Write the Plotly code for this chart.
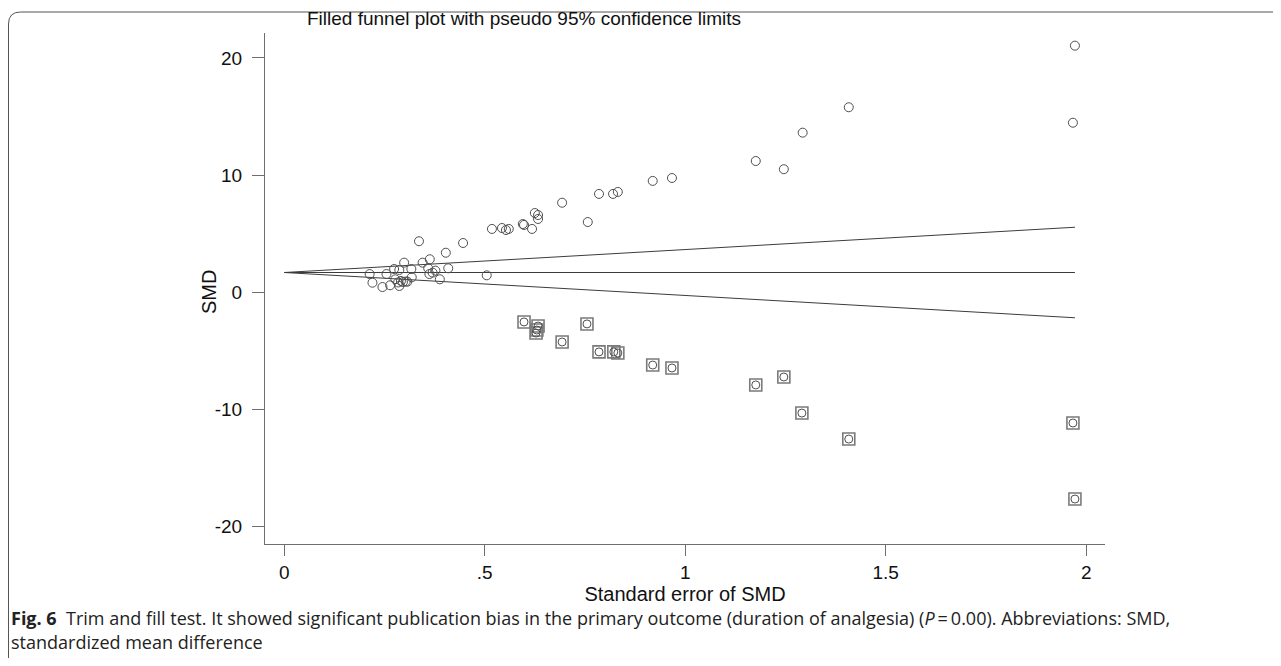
import plotly.graph_objects as go

# Observed studies (open circles)
obs_se = [1.972, 1.967, 1.408, 1.293, 1.246, 1.176, 0.967, 0.919, 0.832, 0.820,
          0.785, 0.757, 0.693, 0.633, 0.625, 0.633, 0.595, 0.598, 0.618, 0.543,
          0.553, 0.560, 0.518, 0.336, 0.446, 0.403, 0.363, 0.345, 0.299, 0.274,
          0.287, 0.317, 0.255, 0.213, 0.359, 0.409, 0.377, 0.370, 0.362, 0.505,
          0.318, 0.277, 0.291, 0.296, 0.284, 0.303, 0.388, 0.220, 0.245, 0.264,
          0.287, 0.307]
obs_smd = [21.05, 14.47, 15.79, 13.62, 10.50, 11.20, 9.75, 9.50, 8.56, 8.39,
           8.39, 5.99, 7.64, 6.59, 6.76, 6.25, 5.82, 5.74, 5.40, 5.48,
           5.31, 5.40, 5.40, 4.35, 4.20, 3.37, 2.81, 2.52, 2.52, 1.98,
           1.90, 1.98, 1.55, 1.55, 2.04, 2.04, 1.84, 1.67, 1.55, 1.44,
           1.27, 1.10, 0.96, 0.87, 0.83, 0.91, 1.10, 0.81, 0.44, 0.59,
           0.53, 0.90]

# Imputed (filled) studies (squares with circles)
fill_se = [0.598, 0.633, 0.630, 0.628, 0.755, 0.693, 0.785, 0.822, 0.832, 0.919,
           0.967, 1.176, 1.246, 1.291, 1.408, 1.967, 1.972]
fill_smd = [-2.54, -2.89, -3.23, -3.49, -2.71, -4.25, -5.10, -5.10, -5.19, -6.22,
            -6.47, -7.92, -7.24, -10.32, -12.54, -11.17, -17.66]

# Pooled estimate and maximum standard error for the pseudo 95% limits
theta = 1.68
se_max = 1.972

x_ticks = [0, 0.5, 1, 1.5, 2]
x_ticklabels = ["0", ".5", "1", "1.5", "2"]
y_ticks = [-20, -10, 0, 10, 20]
y_ticklabels = ["-20", "-10", "0", "10", "20"]

FONT = "Liberation Sans, Arial, sans-serif"
CAP_FONT = "Open Sans, Noto Sans, sans-serif"
LINE = "#3c3c3c"
AXIS = "#6e6e6e"

fig = go.Figure()

# Funnel lines
for lim in (theta + 1.96 * se_max, theta - 1.96 * se_max, theta):
    fig.add_trace(go.Scatter(x=[0, se_max], y=[theta, lim], mode="lines",
                             line=dict(color=LINE, width=1), hoverinfo="skip",
                             showlegend=False))

# Filled squares
fig.add_trace(go.Scatter(x=fill_se, y=fill_smd, mode="markers",
                         marker=dict(symbol="square-open", size=12, color="#7a7a7a",
                                     line=dict(width=1.6, color="#7a7a7a")),
                         showlegend=False))
fig.add_trace(go.Scatter(x=fill_se, y=fill_smd, mode="markers",
                         marker=dict(symbol="circle-open", size=8, color="#505050",
                                     line=dict(width=1, color="#505050")),
                         showlegend=False))
# Observed circles
fig.add_trace(go.Scatter(x=obs_se, y=obs_smd, mode="markers",
                         marker=dict(symbol="circle-open", size=9, color="#505050",
                                     line=dict(width=1, color="#505050")),
                         showlegend=False))

# Layout geometry: page pixels, the page body has an 8px margin
OFF = 8
W, H = 1281 - 2 * OFF, 666 - 2 * OFF
L, R, T, B = 265 - OFF, 1105 - OFF, 33 - OFF, 544 - OFF

def px(x_page):
    return (x_page - OFF - L) / (R - L)

def py(y_page):
    return (B - (y_page - OFF)) / (B - T)

fig.update_layout(
    width=W, height=H,
    margin=dict(l=L, r=W - R, t=T, b=H - B),
    paper_bgcolor="white", plot_bgcolor="white",
    font=dict(family=FONT, color="#111111", size=19),
    xaxis=dict(range=[-0.048, 2.047], tickmode="array", tickvals=x_ticks,
               ticktext=x_ticklabels, ticks="outside", ticklen=11, tickwidth=1,
               tickcolor=AXIS, showline=True, linecolor=AXIS, linewidth=1,
               showgrid=False, zeroline=False, tickfont=dict(size=19),
               title=dict(text="Standard error of SMD", font=dict(size=20), standoff=5)),
    yaxis=dict(range=[-21.5, 22.13], tickmode="array", tickvals=y_ticks,
               ticktext=y_ticklabels, ticks="outside", ticklen=12, tickwidth=1,
               tickcolor=AXIS, showline=True, linecolor=AXIS, linewidth=1,
               showgrid=False, zeroline=False, tickfont=dict(size=19),
               ticklabelstandoff=6),
)

# Y-axis title (placed close to the tick labels as in the original)
fig.add_annotation(text="SMD", textangle=-90,
                   xref="paper", yref="paper", x=px(209), y=py(292),
                   xanchor="center", yanchor="middle", showarrow=False,
                   font=dict(family=FONT, size=20, color="#111"))

# Title inside the plot
fig.add_annotation(text="Filled funnel plot with pseudo 95% confidence limits",
                   xref="paper", yref="paper", x=px(305), y=py(19),
                   xanchor="left", yanchor="middle", showarrow=False,
                   font=dict(family=FONT, size=19, color="#111"))

# Caption
fig.add_annotation(text="<b>Fig. 6</b>  Trim and fill test. It showed significant publication bias in the primary outcome (duration of analgesia) (<i>P</i>\u2009=\u20090.00). Abbreviations: SMD,",
                   xref="paper", yref="paper", x=px(9), y=py(618),
                   xanchor="left", yanchor="middle", showarrow=False,
                   font=dict(family=CAP_FONT, size=18, color="#222"))
fig.add_annotation(text="standardized mean difference",
                   xref="paper", yref="paper", x=px(9), y=py(642),
                   xanchor="left", yanchor="middle", showarrow=False,
                   font=dict(family=CAP_FONT, size=18, color="#222"))

# Frame with rounded top-left corner
x0, y0, x1, yb = px(8.5), py(12), px(1281), py(666)
rad_x = 12 / (R - L)
rad_y = 12 / (B - T)
fig.add_shape(type="path", xref="paper", yref="paper",
              path=f"M {x0} {yb} L {x0} {y0 - rad_y} Q {x0} {y0} {x0 + rad_x} {y0} L {x1} {y0}",
              line=dict(color="#555", width=1))

fig.write_html("out.html")
